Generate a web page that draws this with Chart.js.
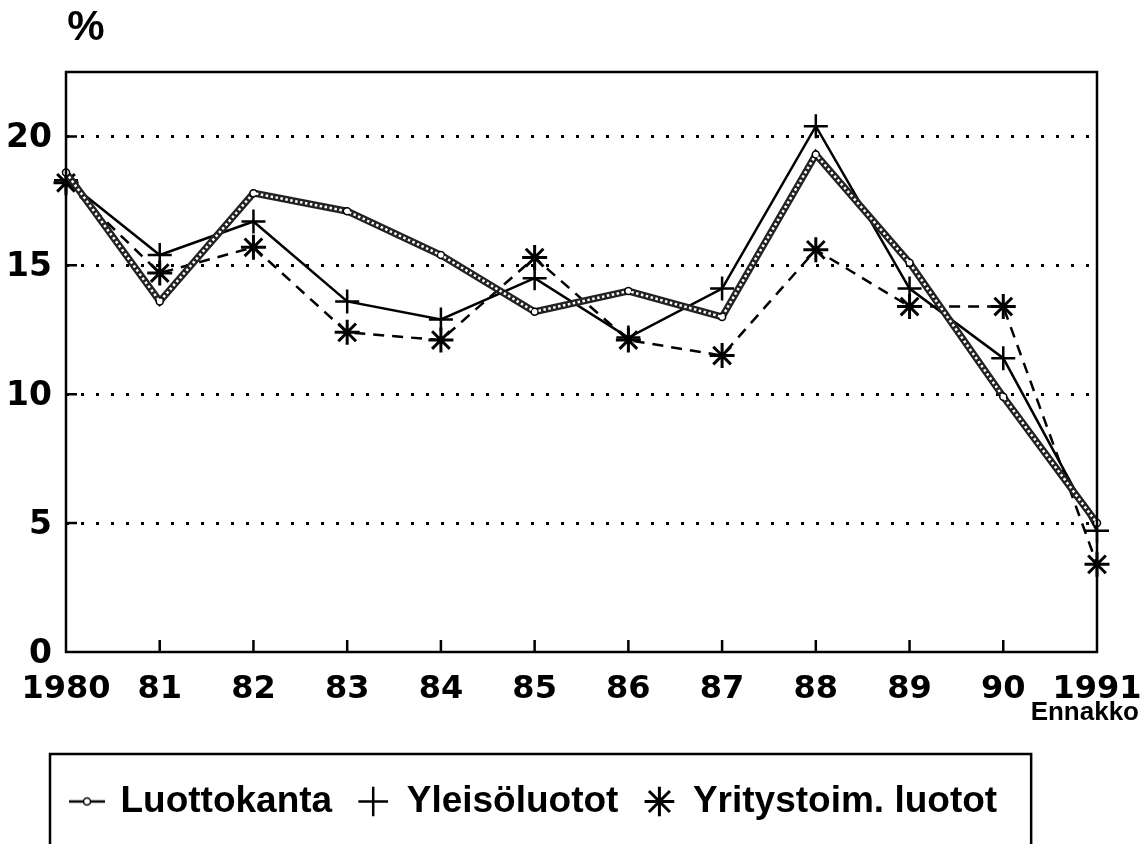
<!DOCTYPE html>
<html>
<head>
<meta charset="utf-8">
<script src="https://cdn.jsdelivr.net/npm/chart.js@4"></script>
<style>
  body { margin: 0; background: #fff; }
</style>
</head>
<body>
<canvas id="loanChart" width="1144" height="844"></canvas>
<script>
// data
const years = ['1980', '81', '82', '83', '84', '85', '86', '87', '88', '89', '90', '1991'];
const luottokanta = [18.6, 13.6, 17.8, 17.1, 15.4, 13.2, 14.0, 13.0, 19.3, 15.1, 9.9, 5.0];
const yleisoluotot = [18.3, 15.4, 16.7, 13.6, 12.9, 14.5, 12.2, 14.1, 20.4, 14.1, 11.4, 4.7];
const yritysluotot = [18.2, 14.7, 15.7, 12.4, 12.1, 15.3, 12.1, 11.5, 15.6, 13.4, 13.4, 3.4];
const yTicks = [0, 5, 10, 15, 20];
const seriesNames = ['Luottokanta', 'Yleisöluotot', 'Yritystoim. luotot'];

// legend marker "-o-" for the chain line
const chainMarker = document.createElement('canvas');
chainMarker.width = 36;
chainMarker.height = 12;
(function () {
    const c = chainMarker.getContext('2d');
    c.strokeStyle = '#000';
    c.lineWidth = 2.5;
    c.beginPath();
    c.moveTo(0, 6);
    c.lineTo(36, 6);
    c.stroke();
    c.fillStyle = '#fff';
    c.lineWidth = 1.5;
    c.beginPath();
    c.arc(18, 6, 3.5, 0, Math.PI * 2);
    c.fill();
    c.stroke();
})();

const decorations = {
    id: 'decorations',
    afterDraw(chart) {
        const { ctx, chartArea: a, scales: { x, y } } = chart;
        ctx.save();
        ctx.strokeStyle = '#000';
        ctx.lineWidth = 2.5;
        ctx.strokeRect(a.left, a.top, a.right - a.left, a.bottom - a.top);

        // short ticks pointing into the plot
        ctx.beginPath();
        yTicks.forEach(v => {
            if (v === 0) return;
            const py = y.getPixelForValue(v);
            ctx.moveTo(a.left, py);
            ctx.lineTo(a.left + 11, py);
        });
        years.forEach((_, i) => {
            if (i === 0 || i === years.length - 1) return;
            const px = x.getPixelForValue(i);
            ctx.moveTo(px, a.bottom);
            ctx.lineTo(px, a.bottom - 12);
        });
        ctx.stroke();

        ctx.fillStyle = '#000';
        ctx.textBaseline = 'middle';

        // y labels (drawn here so they are not clipped to the narrow axis box)
        ctx.textAlign = 'right';
        ctx.font = 'bold 33px "DejaVu Sans"';
        yTicks.forEach(v => {
            ctx.fillText(String(v), a.left - 14, y.getPixelForValue(v) + 2);
        });

        ctx.textAlign = 'center';
        ctx.font = 'bold 42px "Liberation Sans"';
        ctx.fillText('%', a.left + 20, 28);

        ctx.textAlign = 'right';
        ctx.font = 'bold 26px "Liberation Sans"';
        ctx.fillText('Ennakko', x.getPixelForValue(years.length - 1) + 42, 713);

        // frame round the legend
        const boxes = chart.legend.legendHitBoxes;
        if (boxes && boxes.length) {
            const first = boxes[0];
            const last = boxes[boxes.length - 1];
            const left = first.left - 22;
            const right = last.left + last.width + 34;
            const top = first.top - 29;
            ctx.lineWidth = 2.5;
            ctx.strokeRect(left, top, right - left, chart.height + 10 - top);
        }
        ctx.restore();
    }
};

const ctx = document.getElementById('loanChart').getContext('2d');
new Chart(ctx, {
    type: 'line',
    data: {
        labels: years,
        datasets: [
            {
                label: seriesNames[0],
                data: luottokanta,
                order: 1,
                borderColor: '#222',
                backgroundColor: '#fff',
                borderWidth: 7,
                pointStyle: 'circle',
                pointRadius: 3.5,
                pointBorderWidth: 1.5,
                pointBorderColor: '#000',
                pointBackgroundColor: '#fff',
                tension: 0,
                clip: false
            },
            {
                label: seriesNames[1],
                data: yleisoluotot,
                order: 2,
                borderColor: '#000',
                backgroundColor: '#000',
                borderWidth: 2.5,
                pointStyle: 'cross',
                pointRadius: 12,
                pointBorderWidth: 2.5,
                pointBorderColor: '#000',
                tension: 0,
                clip: false
            },
            {
                label: seriesNames[2],
                data: yritysluotot,
                order: 3,
                borderColor: '#000',
                backgroundColor: '#000',
                borderWidth: 2.5,
                borderDash: [11, 8],
                pointStyle: 'star',
                pointRadius: 12.5,
                pointBorderWidth: 3,
                pointBorderColor: '#000',
                tension: 0,
                clip: false
            },
            {
                // white inner stroke that gives the chain look
                label: '',
                data: luottokanta,
                order: 0,
                borderColor: '#fff',
                borderWidth: 2.5,
                borderDash: [2.5, 2.5],
                pointRadius: 0,
                tension: 0,
                clip: false
            }
        ]
    },
    options: {
        responsive: false,
        animation: false,
        devicePixelRatio: 1,
        layout: { padding: { left: 46, right: 39, top: 72, bottom: 14 } },
        plugins: {
            tooltip: { enabled: false },
            legend: {
                position: 'bottom',
                align: 'start',
                labels: {
                    color: '#000',
                    font: { family: 'Liberation Sans', size: 37, weight: 'bold' },
                    usePointStyle: true,
                    boxWidth: 30,
                    boxHeight: 21,
                    padding: 26,
                    filter: item => item.text !== '',
                    generateLabels: chart => {
                        const items = Chart.defaults.plugins.legend.labels.generateLabels(chart);
                        items.forEach(it => {
                            it.lineDash = [];
                            it.fontColor = '#000';
                            if (it.datasetIndex === 0) it.pointStyle = chainMarker;
                        });
                        return items;
                    }
                }
            }
        },
        scales: {
            x: {
                grid: { display: false },
                border: { display: false },
                ticks: {
                    color: '#000',
                    font: { family: 'DejaVu Sans', size: 32, weight: 'bold' },
                    padding: 10,
                    maxRotation: 0,
                    autoSkip: false
                },
                afterFit: s => {
                    s.height = 105;
                    s.paddingRight = 47;
                }
            },
            y: {
                min: 0,
                max: 22.5,
                ticks: { display: false, stepSize: 5 },
                afterBuildTicks: s => {
                    s.ticks = s.ticks.filter(t => yTicks.includes(t.value));
                },
                afterFit: s => { s.width = 20; },
                grid: {
                    drawTicks: false,
                    lineWidth: 3,
                    color: c => (c.tick && c.tick.value === 0) ? 'rgba(0,0,0,0)' : '#000'
                },
                border: { display: false, dash: [3, 12] }
            }
        }
    },
    plugins: [decorations]
});
</script>
</body>
</html>
